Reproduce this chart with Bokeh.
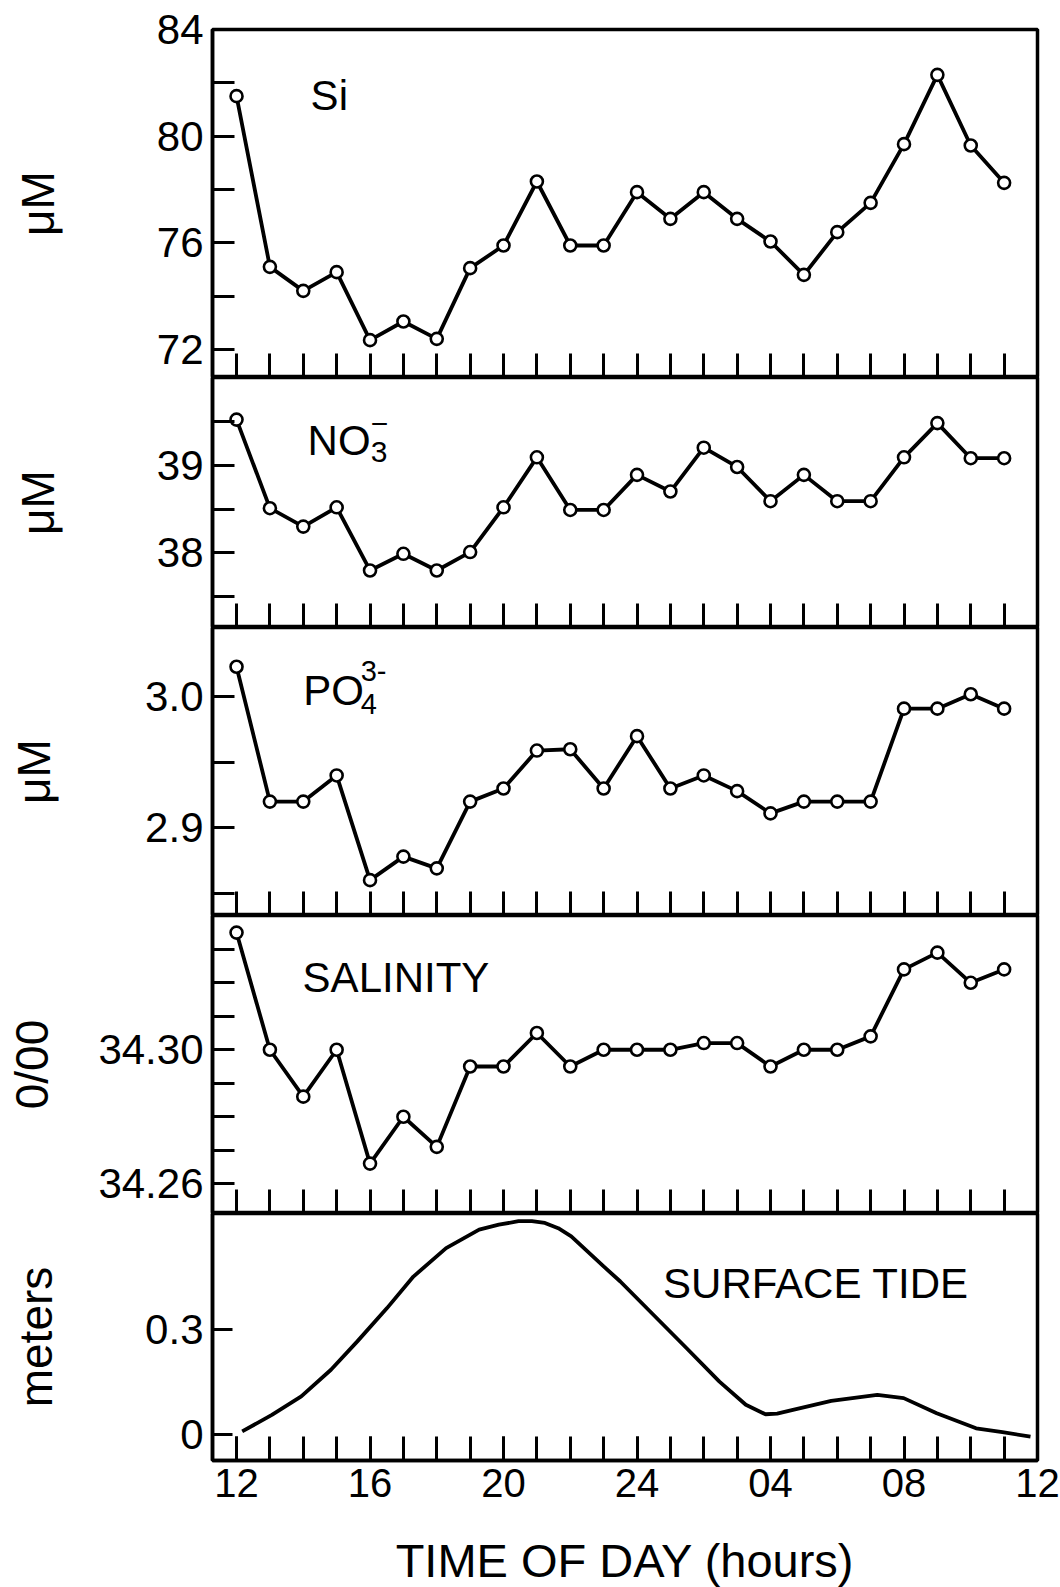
from bokeh.plotting import figure
from bokeh.layouts import column
from bokeh.models import FixedTicker, Label, Range1d
from bokeh.embed import file_html
from bokeh.resources import INLINE

# ---------------- data ----------------
hours = list(range(24))  # hours after 12:00
si = [81.5, 75.1, 74.2, 74.9, 72.35, 73.05, 72.4, 75.05, 75.9, 78.3, 75.9, 75.9,
      77.9, 76.9, 77.9, 76.9, 76.05, 74.8, 76.4, 77.5, 79.7, 82.3, 79.65, 78.25]
no3 = [39.52, 38.51, 38.30, 38.52, 37.80, 37.99, 37.80, 38.01, 38.52, 39.09, 38.49, 38.49,
       38.89, 38.70, 39.20, 38.98, 38.59, 38.89, 38.59, 38.59, 39.09, 39.48, 39.08, 39.08]
po4 = [3.023, 2.920, 2.920, 2.940, 2.860, 2.878, 2.869, 2.920, 2.930, 2.959, 2.960, 2.930,
       2.970, 2.930, 2.940, 2.928, 2.911, 2.920, 2.920, 2.920, 2.991, 2.991, 3.002, 2.991]
sal = [34.335, 34.300, 34.286, 34.300, 34.266, 34.280, 34.271, 34.295, 34.295, 34.305, 34.295, 34.300,
       34.300, 34.300, 34.302, 34.302, 34.295, 34.300, 34.300, 34.304, 34.324, 34.329, 34.320, 34.324]
tide_h = [0.17, 1.06, 1.94, 2.83, 3.62, 4.51, 5.30, 6.28, 7.27, 7.86, 8.45, 8.85, 9.24, 9.64,
          10.03, 11.0, 11.5, 12.49, 13.48, 14.47, 15.26, 15.85, 16.2, 16.64, 17.82, 19.2,
          19.99, 20.98, 22.16, 22.95, 23.79]
tide_m = [0.009, 0.056, 0.109, 0.185, 0.266, 0.361, 0.451, 0.532, 0.585, 0.599, 0.609, 0.609, 0.604, 0.589,
          0.566, 0.48, 0.437, 0.342, 0.247, 0.151, 0.085, 0.058, 0.060, 0.070, 0.096, 0.113,
          0.104, 0.061, 0.018, 0.007, -0.006]

x_major = [0, 4, 8, 12, 16, 20, 24]
x_labels = {0: "12", 4: "16", 8: "20", 12: "24", 16: "04", 20: "08", 24: "12"}

FONT = "Liberation Sans"
x_range = Range1d(-0.72, 24.0)


def make_panel(y0, y1, frame_h, ylabel, yt_major, yt_minor, overrides, label_standoff,
               top_border=0, bottom=False, tick_len=22):
    p = figure(frame_width=825, frame_height=frame_h, x_range=x_range, y_range=Range1d(y0, y1),
               output_backend="svg", toolbar_location=None,
               min_border_left=212, min_border_right=23, min_border_top=top_border,
               min_border_bottom=0)
    p.grid.visible = False
    p.outline_line_color = "black"
    p.outline_line_width = 3.5
    p.outline_line_alpha = 1.0
    p.background_fill_color = "white"
    p.border_fill_color = "white"

    xa = p.xaxis[0]
    xa.major_tick_in = 24
    xa.major_tick_out = 0
    xa.minor_tick_in = 24
    xa.minor_tick_out = 0
    xa.major_tick_line_width = 3
    xa.minor_tick_line_width = 3
    xa.axis_line_width = 3.5
    if bottom:
        xa.ticker = FixedTicker(ticks=x_major, minor_ticks=hours)
        xa.major_label_overrides = x_labels
        xa.major_label_text_font = FONT
        xa.major_label_text_font_size = "40px"
        xa.major_label_text_color = "black"
        xa.major_label_standoff = 8
        xa.axis_label = "TIME OF DAY (hours)"
        xa.axis_label_text_font = FONT
        xa.axis_label_text_font_size = "47px"
        xa.axis_label_text_color = "black"
        xa.axis_label_text_font_style = "normal"
        xa.axis_label_standoff = 34
    else:
        xa.ticker = FixedTicker(ticks=[], minor_ticks=hours)
        xa.major_label_standoff = 0

    ya = p.yaxis[0]
    ya.ticker = FixedTicker(ticks=yt_major, minor_ticks=yt_minor)
    ya.major_label_overrides = overrides
    ya.major_tick_in = tick_len
    ya.major_tick_out = 0
    ya.minor_tick_in = tick_len
    ya.minor_tick_out = 0
    ya.major_tick_line_width = 3
    ya.minor_tick_line_width = 3
    ya.axis_line_width = 3.5
    ya.major_label_text_font = FONT
    ya.major_label_text_font_size = "42px"
    ya.major_label_text_color = "black"
    ya.major_label_standoff = 9
    ya.axis_label = ylabel
    ya.axis_label_text_font = FONT
    ya.axis_label_text_font_size = "46px"
    ya.axis_label_text_color = "black"
    ya.axis_label_text_font_style = "normal"
    ya.axis_label_standoff = label_standoff
    return p


def add_series(p, y):
    p.line(hours, y, line_color="black", line_width=3.8)
    p.scatter(hours, y, marker="circle", size=12, fill_color="white",
              line_color="black", line_width=2.6)


def add_text(p, x, y, text, size="42px"):
    p.add_layout(Label(x=x, y=y, text=text, text_font=FONT, text_font_size=size,
                       text_color="black", text_baseline="alphabetic", text_align="left"))


# Panel 1: Si
p1 = make_panel(70.95, 84.0, 348, "μM", [72, 76, 80, 84], [74, 78, 82],
                {72: "72", 76: "76", 80: "80", 84: "84"}, 90, top_border=29)
add_series(p1, si)
add_text(p1, 2.22, 81.52, "Si")

# Panel 2: NO3-
p2 = make_panel(37.15, 40.0, 250, "μM", [38, 39], [37.5, 38.5, 39.5],
                {38: "38", 39: "39"}, 90)
add_series(p2, no3)
add_text(p2, 2.13, 39.285, "NO")
add_text(p2, 4.02, 39.148, "3", size="30px")
add_text(p2, 4.02, 39.47, "\u2212", size="30px")

# Panel 3: PO4 3-
p3 = make_panel(2.833, 3.053, 288, "μM", [2.9, 3.0], [2.85, 2.95],
                {2.9: "2.9", 3.0: "3.0"}, 82)
add_series(p3, po4)
add_text(p3, 2.0, 3.0046, "PO")
add_text(p3, 3.72, 2.9947, "4", size="29px")
add_text(p3, 3.72, 3.0198, "3-", size="29px")

# Panel 4: Salinity
p4 = make_panel(34.2511, 34.3401, 298, "0/00", [34.26, 34.30],
                [34.27, 34.28, 34.29, 34.31, 34.32, 34.33],
                {34.26: "34.26", 34.3: "34.30"}, 37)
add_series(p4, sal)
add_text(p4, 1.98, 34.3216, "SALINITY")

# Panel 5: surface tide
p5 = make_panel(-0.074, 0.631, 247, "meters", [0, 0.3], [],
                {0: "0", 0.3: "0.3"}, 80, bottom=True, tick_len=20)
p5.line(tide_h, tide_m, line_color="black", line_width=3.8)
add_text(p5, 12.78, 0.431, "SURFACE TIDE")

layout = column(p1, p2, p3, p4, p5, spacing=0)
open("out.html", "w").write(file_html(layout, INLINE))
